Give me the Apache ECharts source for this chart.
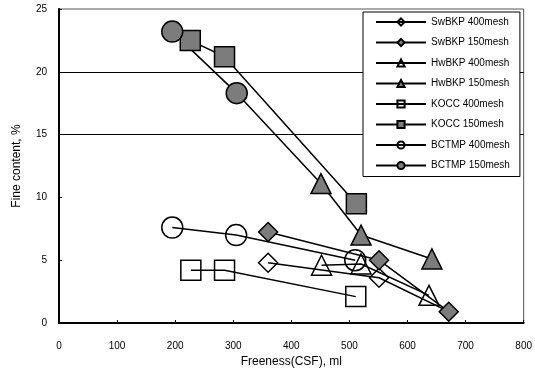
<!DOCTYPE html>
<html>
<head>
<meta charset="utf-8">
<script src="https://cdn.jsdelivr.net/npm/echarts@6/dist/echarts.min.js"></script>
<style>html,body{margin:0;padding:0;background:#fff}#c{width:535px;height:382px}</style>
</head>
<body>
<div id="c"></div>
<script>
const seriesNames = ['SwBKP 400mesh','SwBKP 150mesh','HwBKP 400mesh','HwBKP 150mesh','KOCC 400mesh','KOCC 150mesh','BCTMP 400mesh','BCTMP 150mesh'];
const swbkp400 = [[360,4.8],[551,3.6],[671,0.9]];
const swbkp150 = [[360,7.25],[551,5.0],[671,0.9]];
const hwbkp400 = [[452,4.6],[520,4.7],[637,2.2]];
const hwbkp150 = [[451,11.1],[520,7.0],[642,5.1]];
const kocc400 = [[227,4.2],[285,4.2],[511,2.1]];
const kocc150 = [[226,22.5],[285,21.2],[512,9.5]];
const bctmp400 = [[195,7.6],[305,7.0],[510,5.0]];
const bctmp150 = [[195,23.2],[306,18.3],[451,11.1]];
const xTicks = [0,100,200,300,400,500,600,700,800];
const yTicks = [0,5,10,15,20,25];

const dataList = [swbkp400,swbkp150,hwbkp400,hwbkp150,kocc400,kocc150,bctmp400,bctmp150];
const symbols = ['diamond','diamond','triangle','triangle','rect','rect','circle','circle'];
const sizes = [19,19,20,20,20,20,21,21];
const zs = [2,3,2,5,2,3,2,3];
const GRAY = '#7c7c7c';
const font = 'Liberation Sans';

// hide a marker that sits exactly under another series' marker (drawn beneath it in the original)
function coveredByOther(i, pt) {
  return dataList.some((d, j) => j !== i && zs[j] > zs[i] && d.some(q => q[0] === pt[0] && q[1] === pt[1]));
}

const chart = echarts.init(document.getElementById('c'), null, {renderer:'canvas'});
const series = dataList.map((d,i)=>({
  name: seriesNames[i],
  type: 'line',
  data: d,
  symbol: symbols[i],
  symbolSize: (v, p) => coveredByOther(i, d[p.dataIndex]) ? 0 : sizes[i],
  showAllSymbol: true,
  lineStyle: {color:'#000', width:1.5},
  itemStyle: {color: i%2===1 ? GRAY : 'rgba(255,255,255,0)', borderColor:'#000', borderWidth:1.5},
  emphasis: {disabled:true},
  animation: false,
  z: zs[i]
}));

chart.setOption({
  animation: false,
  backgroundColor: '#fff',
  grid: {left:59, right:9, top:9, bottom:59, show:true, borderColor:'#555', borderWidth:1},
  xAxis: {
    type:'value', min:xTicks[0], max:xTicks[xTicks.length-1], interval:100,
    name:'Freeness(CSF), ml', nameLocation:'middle', nameGap:30,
    nameTextStyle:{fontFamily:font, fontSize:12, color:'#000'},
    axisLine:{show:true, lineStyle:{color:'#000', width:2}},
    axisTick:{show:true, inside:true, length:3, lineStyle:{color:'#000'}},
    axisLabel:{fontFamily:font, fontSize:10, color:'#000', margin:18},
    splitLine:{show:false}
  },
  yAxis: {
    type:'value', min:yTicks[0], max:yTicks[yTicks.length-1], interval:5,
    name:'Fine content, %', nameLocation:'middle', nameGap:36,
    nameTextStyle:{fontFamily:font, fontSize:12, color:'#000'},
    axisLine:{show:true, lineStyle:{color:'#000', width:2}},
    axisTick:{show:true, inside:true, length:3, lineStyle:{color:'#000'}},
    axisLabel:{fontFamily:font, fontSize:10, color:'#000', margin:12},
    splitLine:{show:true, lineStyle:{color:['rgba(0,0,0,0)','rgba(0,0,0,0)','rgba(0,0,0,0)','#000','#000','rgba(0,0,0,0)'], width:1}}
  },
  legend: {
    orient:'vertical', left:363, top:12, width:150,
    padding:[5,10,6,12], itemGap:10.5, itemWidth:50, itemHeight:9,
    backgroundColor:'#fff', borderColor:'#000', borderWidth:1,
    textStyle:{fontFamily:font, fontSize:10, color:'#000'},
    data: seriesNames.map(n => ({name: n, itemStyle: undefined}))
  },
  series: series
});
</script>
</body>
</html>
